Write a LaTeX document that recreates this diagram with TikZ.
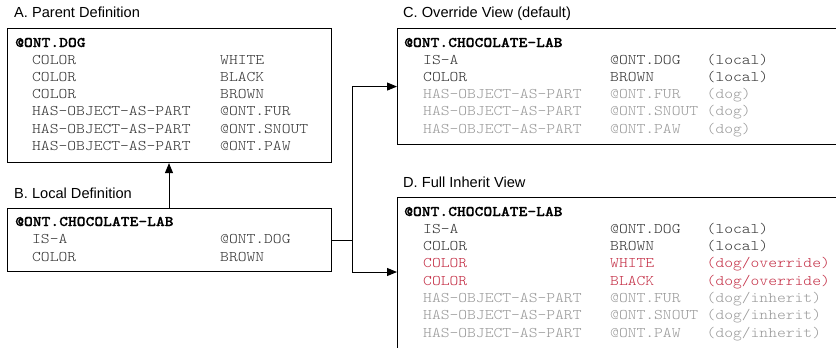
\documentclass[tikz,border=0pt]{standalone}
\usepackage{fontspec}
\setmainfont{Liberation Sans}
% Courier-like slab typewriter face, widened to a 0.6em advance
\setmonofont{lmmonolt10-regular.otf}[BoldFont=lmmonolt10-bold.otf, BoldFeatures={FakeBold=0.8}, FakeStretch=1.14]
\usetikzlibrary{arrows.meta}
\definecolor{rowdark}{HTML}{333333}
\definecolor{rowgray}{HTML}{999999}
\definecolor{rowred}{HTML}{C42E45}
\begin{document}
\begin{tikzpicture}[x=1bp,y=-1bp,
  title/.style={anchor=base west, inner sep=0, font=\fontsize{14.6bp}{17bp}\selectfont},
  frame/.style={draw=black, line width=1.1bp, anchor=north west, inner sep=0},
  head/.style={anchor=base west, inner sep=0, font=\fontsize{14.7bp}{17bp}\selectfont\ttfamily\bfseries},
  cell/.style={anchor=base west, inner sep=0, font=\fontsize{14.7bp}{17bp}\selectfont\ttfamily, text=rowdark},
  faded/.style={cell, text=rowgray},
  hot/.style={cell, text=rowred},
  wire/.style={line width=1bp},
  link/.style={wire, -{Triangle[length=10bp,width=8bp]}}
]
\useasboundingbox (0,0) rectangle (836,347);
\fill[white] (0,0) rectangle (836,347);
\clip (0,0) rectangle (836,347);

% ---- A. Parent Definition
\node[frame, minimum width=324bp, minimum height=134bp] (boxA) at (7,28) {};
\node[title] (titleA) at (14,17) {A. Parent Definition};
\node[head] (a0) at (15,47) {@ONT.DOG};
\foreach \i/\k/\v in {1/COLOR/WHITE, 2/COLOR/BLACK, 3/COLOR/BROWN,
    4/HAS-OBJECT-AS-PART/@ONT.FUR, 5/HAS-OBJECT-AS-PART/@ONT.SNOUT,
    6/HAS-OBJECT-AS-PART/@ONT.PAW} {
  \node[cell] (a\i-k) at (32,47+17.2*\i) {\k};
  \node[cell] (a\i-v) at (220,47+17.2*\i) {\v};
}

% ---- B. Local Definition
\node[frame, minimum width=324bp, minimum height=63bp] (boxB) at (7,208) {};
\node[title] (titleB) at (14,198) {B. Local Definition};
\node[head] (b0) at (15,226) {@ONT.CHOCOLATE-LAB};
\node[cell] (b1-k) at (32,243.5) {IS-A};
\node[cell] (b1-v) at (220,243.5) {@ONT.DOG};
\node[cell] (b2-k) at (32,261) {COLOR};
\node[cell] (b2-v) at (220,261) {BROWN};

% ---- C. Override View (default)
\node[frame, minimum width=460bp, minimum height=116bp] (boxC) at (397,28) {};
\node[title] (titleC) at (403,17) {C. Override View (default)};
\node[head] (c0) at (404,47) {@ONT.CHOCOLATE-LAB};
\foreach \i/\st/\k/\v/\s in {1/cell/IS-A/@ONT.DOG/(local), 2/cell/COLOR/BROWN/(local),
    3/faded/HAS-OBJECT-AS-PART/@ONT.FUR/(dog), 4/faded/HAS-OBJECT-AS-PART/@ONT.SNOUT/(dog),
    5/faded/HAS-OBJECT-AS-PART/@ONT.PAW/(dog)} {
  \node[\st] (c\i-k) at (423,47+17.2*\i) {\k};
  \node[\st] (c\i-v) at (610,47+17.2*\i) {\v};
  \node[\st] (c\i-s) at (706.5,47+17.2*\i) {\s};
}

% ---- D. Full Inherit View
\node[frame, minimum width=460bp, minimum height=170bp] (boxD) at (397,197) {};
\node[title] (titleD) at (403,187) {D. Full Inherit View};
\node[head] (d0) at (404,216) {@ONT.CHOCOLATE-LAB};
\foreach \i/\st/\k/\v/\s in {1/cell/IS-A/@ONT.DOG/(local), 2/cell/COLOR/BROWN/(local),
    3/hot/COLOR/WHITE/(dog\slash override), 4/hot/COLOR/BLACK/(dog\slash override),
    5/faded/HAS-OBJECT-AS-PART/@ONT.FUR/(dog\slash inherit),
    6/faded/HAS-OBJECT-AS-PART/@ONT.SNOUT/(dog\slash inherit),
    7/faded/HAS-OBJECT-AS-PART/@ONT.PAW/(dog\slash inherit)} {
  \node[\st] (d\i-k) at (423,216+17.3*\i) {\k};
  \node[\st] (d\i-v) at (610,216+17.3*\i) {\v};
  \node[\st] (d\i-s) at (706.5,216+17.3*\i) {\s};
}

% ---- connectors
\coordinate (upx) at (169,0);
\coordinate (split) at (352,0);
\draw[link] (upx |- boxB.north) -- (upx |- boxA.south);
\draw[wire] (boxB.east) -- (boxB.east -| split);
\draw[link] (boxB.east -| split) |- (boxC.west);
\draw[link] (boxB.east -| split) |- ([yshift=-75bp]boxD.north west);
\end{tikzpicture}
\end{document}
